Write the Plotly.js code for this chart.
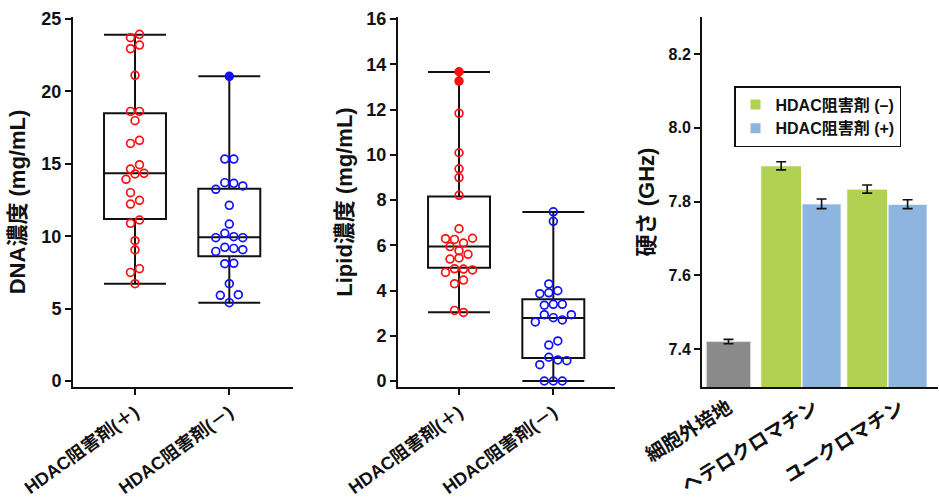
<!DOCTYPE html>
<html>
<head>
<meta charset="utf-8">
<script src="https://cdn.plot.ly/plotly-3.0.1.min.js"></script>
<style>html,body{margin:0;padding:0;background:#fff;}#chart{width:939px;height:502px;}</style>
</head>
<body>
<div id="chart"></div>
<script>
// ---------------- DATA ----------------
const boxGroups = ["HDAC阻害剤(＋)", "HDAC阻害剤(－)"];

// DNA concentration (mg/mL)
const dnaPlus = [23.71, 23.94, 22.95, 23.20, 21.11, 18.62, 18.62, 17.98, 16.41, 16.62, 14.64, 14.94,
  13.93, 14.30, 14.34, 13.01, 12.22, 12.48, 10.89, 11.12, 9.69, 9.05, 7.50, 7.76, 6.72];
const dnaMinus = [21.04, 15.33, 15.33, 13.24, 13.70, 13.65, 13.47, 12.13, 10.84, 9.90, 10.20, 9.97,
  9.90, 8.95, 9.23, 9.16, 9.07, 8.10, 8.13, 6.72, 5.92, 5.41, 5.96];
// box statistics: [lower, q1, median, q3, upper]
const dnaPlusBox = [6.72, 11.19, 14.34, 18.49, 23.92];
const dnaMinusBox = [5.41, 8.61, 9.92, 13.28, 21.04];

// Lipid concentration (mg/mL)
const lipidPlus = [13.67, 13.26, 11.83, 10.09, 9.38, 8.99, 8.21, 6.73, 6.29, 6.26, 6.10, 6.31,
  5.94, 5.76, 5.60, 5.39, 5.44, 4.80, 4.96, 4.95, 4.91, 4.30, 4.46, 3.12, 3.03];
const lipidMinus = [7.48, 7.06, 4.29, 3.99, 3.86, 3.90, 3.35, 3.39, 3.39, 2.61, 2.93, 2.80, 2.70, 2.93,
  1.59, 1.77, 0.72, 1.05, 0.93, 0.90, 0, 0, 0];
const lipidPlusBox = [3.04, 5.01, 5.94, 8.16, 13.66];
const lipidMinusBox = [0, 1.02, 2.79, 3.61, 7.47];

// Stiffness (GHz)
const barCategories = ["細胞外培地", "ヘテロクロマチン", "ユークロマチン"];
const mediumValue = [7.421];
const mediumErr = [0.006];
const seriesNames = ["HDAC阻害剤 (–)", "HDAC阻害剤 (+)"];
const inhibitorMinus = [7.897, 7.834];
const inhibitorMinusErr = [0.011, 0.011];
const inhibitorPlus = [7.794, 7.793];
const inhibitorPlusErr = [0.013, 0.012];

// ---------------- LAYOUT GEOMETRY ----------------
const W = 939, H = 502;
const plotTop = 17, plotBottom = 387;
const panelA = [73, 293], panelB = [398, 615], panelC = [702, 938];
const xRangeA = [-0.6575, 1.6755], xRangeB = [-0.647, 1.654], xRangeC = [-0.308, 2.436];
const yRangeA = [-0.414, 25.14], yRangeB = [-0.265, 16.09], yRangeC = [7.298, 8.3];
const dom = p => [p[0] / W, p[1] / W];
const yDom = [1 - plotBottom / H, 1 - plotTop / H];

const RED = '#ff1010', BLUE = '#1010ff';
const FONT = 'Liberation Sans, Arial, "Noto Sans CJK JP", sans-serif';
const DOT = 9; // marker diameter in px

// Prism-like row beeswarm: returns x offsets in data units
function swarm(values, pxPerY, pxPerX, d) {
  const n = values.length;
  const idx = values.map((v, i) => i).sort((a, b) => (values[b] - values[a]) || (a - b));
  const rowH = 0.9 * d, minDist = 0.7 * d;
  const offs = new Array(n).fill(0);
  const placed = [];
  let k = 0;
  while (k < n) {
    const start = values[idx[k]];
    const row = [idx[k]]; k++;
    while (k < n && (start - values[idx[k]]) * pxPerY < rowH) { row.push(idx[k]); k++; }
    row.sort((a, b) => a - b);
    const m = row.length;
    const shifts = [0];
    for (let s = 1; s <= 10; s++) shifts.push(s * d / 2, -s * d / 2);
    let chosen = null;
    for (const sh of shifts) {
      const xs = row.map((_, j) => (j - (m - 1) / 2) * d + sh);
      const ok = row.every((p, j) => placed.every(q =>
        Math.hypot(xs[j] - q.x, (values[p] - q.v) * pxPerY) >= minDist));
      if (ok) { chosen = xs; break; }
    }
    if (!chosen) chosen = row.map((_, j) => (j - (m - 1) / 2) * d);
    row.forEach((p, j) => { offs[p] = chosen[j] / pxPerX; placed.push({ x: chosen[j], v: values[p] }); });
  }
  return offs;
}

function pointTrace(values, box, center, color, xRange, yRange, panel, xa, ya) {
  const pxPerY = (plotBottom - plotTop) / (yRange[1] - yRange[0]);
  const pxPerX = (panel[1] - panel[0]) / (xRange[1] - xRange[0]);
  const offs = swarm(values, pxPerY, pxPerX, DOT);
  const iqr = box[3] - box[1];
  const hiF = box[3] + 1.5 * iqr, loF = box[1] - 1.5 * iqr;
  return {
    type: 'scatter', mode: 'markers', xaxis: xa, yaxis: ya, showlegend: false, hoverinfo: 'y',
    x: values.map((v, i) => center + offs[i]),
    y: values,
    marker: {
      size: 7.8, color: color,
      symbol: values.map(v => (v > hiF || v < loF) ? 'circle' : 'circle-open'),
      line: { color: color, width: 1.7 }
    }
  };
}

function boxTrace(stats, xa, ya) {
  return {
    type: 'box', xaxis: xa, yaxis: ya, showlegend: false,
    x: stats.map((s, i) => i),
    lowerfence: stats.map(s => s[0]), q1: stats.map(s => s[1]), median: stats.map(s => s[2]),
    q3: stats.map(s => s[3]), upperfence: stats.map(s => s[4]),
    boxpoints: false, width: 0.657, whiskerwidth: 1,
    fillcolor: 'rgba(0,0,0,0)', line: { color: '#111', width: 2 }
  };
}

const traces = [
  boxTrace([dnaPlusBox, dnaMinusBox], 'x', 'y'),
  pointTrace(dnaPlus, dnaPlusBox, 0, RED, xRangeA, yRangeA, panelA, 'x', 'y'),
  pointTrace(dnaMinus, dnaMinusBox, 1, BLUE, xRangeA, yRangeA, panelA, 'x', 'y'),
  boxTrace([lipidPlusBox, lipidMinusBox], 'x2', 'y2'),
  pointTrace(lipidPlus, lipidPlusBox, 0, RED, xRangeB, yRangeB, panelB, 'x2', 'y2'),
  pointTrace(lipidMinus, lipidMinusBox, 1, BLUE, xRangeB, yRangeB, panelB, 'x2', 'y2'),
  {
    type: 'bar', xaxis: 'x3', yaxis: 'y3', showlegend: false,
    x: [0], y: mediumValue, width: 0.515, offset: -0.2575,
    marker: { color: '#8a8a8a', line: { color: '#dddddd', width: 1 } },
    error_y: { type: 'data', array: mediumErr, color: '#111', thickness: 1.6, width: 5 }
  },
  {
    type: 'bar', xaxis: 'x3', yaxis: 'y3', name: seriesNames[0],
    x: barCategories.slice(1).map((c, i) => i + 1), y: inhibitorMinus, width: 0.475, offset: -0.625,
    marker: { color: '#b1d152', line: { color: '#ffffff', width: 1 } },
    error_y: { type: 'data', array: inhibitorMinusErr, color: '#111', thickness: 1.6, width: 5 }
  },
  {
    type: 'bar', xaxis: 'x3', yaxis: 'y3', name: seriesNames[1],
    x: barCategories.slice(1).map((c, i) => i + 1), y: inhibitorPlus, width: 0.455, offset: -0.145,
    marker: { color: '#8db5e0', line: { color: '#ffffff', width: 1 } },
    error_y: { type: 'data', array: inhibitorPlusErr, color: '#111', thickness: 1.6, width: 5 }
  }
];

const tickFont = { family: FONT, size: 18, color: '#111', weight: 'bold' };
const titleFont = { family: FONT, size: 22, color: '#111', weight: 'bold' };
const catFont = { family: FONT, size: 18, color: '#111', weight: 'bold' };
const baseAxis = {
  showline: true, linecolor: '#111', linewidth: 2, showgrid: false, zeroline: false,
  ticks: 'outside', ticklen: 6, tickwidth: 2, tickcolor: '#111', automargin: false, fixedrange: true
};

const layout = {
  width: W, height: H, margin: { l: 0, r: 0, t: 0, b: 0 },
  paper_bgcolor: '#fff', plot_bgcolor: 'rgba(0,0,0,0)',
  barmode: 'overlay', showlegend: true,
  font: { family: FONT, color: '#111' },
  xaxis: Object.assign({}, baseAxis, {
    domain: dom(panelA), range: xRangeA, anchor: 'y', tickvals: [0, 1], ticktext: boxGroups,
    tickangle: -36, tickfont: catFont
  }),
  yaxis: Object.assign({}, baseAxis, {
    domain: yDom, range: yRangeA, anchor: 'x', dtick: 5, tick0: 0, tickfont: tickFont,
    title: { text: 'DNA濃度 (mg/mL)', font: titleFont, standoff: 10 }
  }),
  xaxis2: Object.assign({}, baseAxis, {
    domain: dom(panelB), range: xRangeB, anchor: 'y2', tickvals: [0, 1], ticktext: boxGroups,
    tickangle: -36, tickfont: catFont
  }),
  yaxis2: Object.assign({}, baseAxis, {
    domain: yDom, range: yRangeB, anchor: 'x2', dtick: 2, tick0: 0, tickfont: tickFont,
    title: { text: 'Lipid濃度 (mg/mL)', font: titleFont, standoff: 8 }
  }),
  xaxis3: Object.assign({}, baseAxis, {
    domain: dom(panelC), range: xRangeC, anchor: 'y3', tickvals: [0, 1, 2], ticktext: barCategories,
    ticks: '', tickangle: -32, tickfont: { family: FONT, size: 19.5, color: '#111', weight: 'bold' }
  }),
  yaxis3: Object.assign({}, baseAxis, {
    domain: yDom, range: yRangeC, anchor: 'x3', dtick: 0.2, tick0: 7.4, tickformat: '.1f',
    tickfont: { family: FONT, size: 16, color: '#111', weight: 'bold' },
    title: { text: '硬さ (GHz)', font: titleFont, standoff: 8 }
  }),
  legend: {
    x: 734 / W, y: 1 - 86 / H, xanchor: 'left', yanchor: 'top',
    bgcolor: '#fff', bordercolor: '#111', borderwidth: 1.5,
    font: { family: FONT, size: 16, color: '#111', weight: 'bold' },
    tracegroupgap: 0, itemsizing: 'constant'
  }
};

Plotly.newPlot('chart', traces, layout, { staticPlot: true, displayModeBar: false });
</script>
</body>
</html>
